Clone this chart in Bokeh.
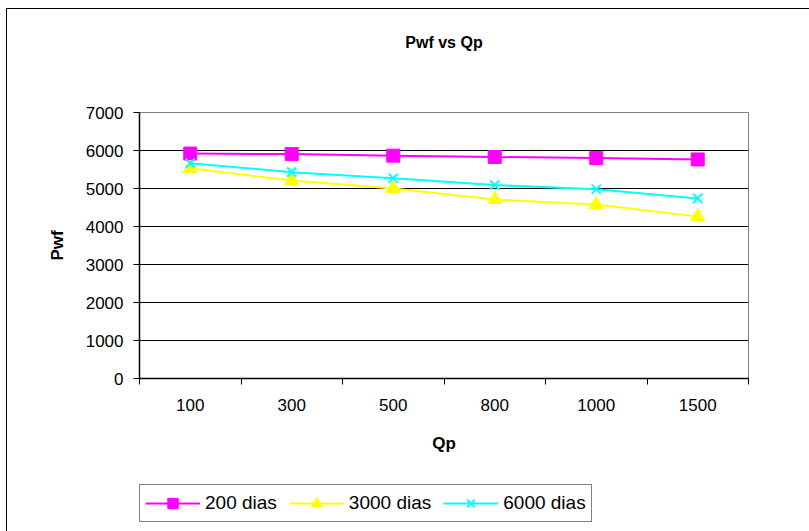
from bokeh.plotting import figure
from bokeh.layouts import column
from bokeh.models import (FixedTicker, Legend, LegendItem, Range1d, ColumnDataSource, Title)
from bokeh.embed import file_html
from bokeh.resources import INLINE

categories = ["100", "300", "500", "800", "1000", "1500"]
dias_200 = [5920, 5905, 5865, 5830, 5800, 5765]
dias_3000 = [5530, 5210, 5000, 4710, 4580, 4260]
dias_6000 = [5665, 5430, 5270, 5090, 4980, 4740]
series_names = ["200 dias", "3000 dias", "6000 dias"]
y_ticks = [0, 1000, 2000, 3000, 4000, 5000, 6000, 7000]

xpos = [i + 0.5 for i in range(len(categories))]
FONT = "Liberation Sans"
C1, C2, C3 = "#FF00FF", "#FFFF00", "#00FFFF"

p = figure(frame_width=609, frame_height=266, output_backend="svg", toolbar_location=None,
           x_range=Range1d(0, len(categories)), y_range=Range1d(0, 7000),
           min_border_left=132, min_border_right=61, min_border_top=103,
           min_border_bottom=90, title="Pwf vs Qp")
p.background_fill_color = "white"
p.border_fill_color = "white"
p.outline_line_color = "#808080"
p.outline_line_width = 1

p.title.align = "center"
p.title.text_font = FONT
p.title.text_font_size = "16px"
p.title.text_font_style = "bold"
p.title.text_color = "black"

# spacer between the title and the plot area
p.add_layout(Title(text=" ", text_font_size="30px", standoff=22, offset=0), "above")

# axes
p.xaxis.ticker = FixedTicker(ticks=xpos, minor_ticks=list(range(len(categories) + 1)))
p.xaxis.major_label_overrides = {x: c for x, c in zip(xpos, categories)}
p.xaxis.major_tick_out = 0
p.xaxis.major_tick_in = 0
p.xaxis.minor_tick_out = 6
p.xaxis.minor_tick_in = 0
p.xaxis.minor_tick_line_color = "black"
p.xaxis.major_label_standoff = 14
p.xaxis.axis_label = "Qp"
p.xaxis.axis_label_standoff = 20

p.yaxis.ticker = FixedTicker(ticks=y_ticks)
p.yaxis.minor_tick_line_color = None
p.yaxis.major_tick_out = 6
p.yaxis.major_tick_in = 0
p.yaxis.major_label_standoff = 10
p.yaxis.axis_label = "Pwf"
p.yaxis.axis_label_standoff = 16

for ax in (p.xaxis[0], p.yaxis[0]):
    ax.axis_line_color = "black"
    ax.axis_line_width = 1.5
    ax.major_tick_line_color = "black"
    ax.major_label_text_font = FONT
    ax.major_label_text_font_size = "17px"
    ax.major_label_text_color = "black"
    ax.axis_label_text_font = FONT
    ax.axis_label_text_font_size = "17px"
    ax.axis_label_text_font_style = "bold"
    ax.axis_label_text_color = "black"

p.xgrid.grid_line_color = None
p.ygrid.grid_line_color = "black"
p.ygrid.grid_line_width = 1
p.ygrid.ticker = FixedTicker(ticks=y_ticks)

src = ColumnDataSource(dict(x=xpos, a=dias_200, b=dias_3000, c=dias_6000))

p.line("x", "a", source=src, line_color=C1, line_width=2)
p.scatter("x", "a", source=src, marker="square", size=13, fill_color=C1, line_color=C1)
p.line("x", "b", source=src, line_color=C2, line_width=2)
p.scatter("x", "b", source=src, marker="triangle", size=14, fill_color=C2, line_color=C2)
p.line("x", "c", source=src, line_color=C3, line_width=2)
p.scatter("x", "c", source=src, marker="x", size=13, line_color=C3, line_width=2)

# legend strip below the chart (legend-only figure; its data lies outside its view)
p2 = figure(width=802, height=63, output_backend="svg", toolbar_location=None,
            x_range=Range1d(0, 1), y_range=Range1d(0, 1), min_border=0,
            x_axis_type=None, y_axis_type=None)
p2.grid.visible = False
p2.outline_line_color = None
p2.background_fill_color = "white"
p2.border_fill_color = "white"

r1 = [p2.line("x", "a", source=src, line_color=C1, line_width=2),
      p2.scatter("x", "a", source=src, marker="square", fill_color=C1, line_color=C1)]
r2 = [p2.line("x", "b", source=src, line_color=C2, line_width=2),
      p2.scatter("x", "b", source=src, marker="triangle", fill_color=C2, line_color=C2)]
r3 = [p2.line("x", "c", source=src, line_color=C3, line_width=2),
      p2.scatter("x", "c", source=src, marker="x", line_color=C3, line_width=2)]

legend = Legend(items=[
    LegendItem(label=series_names[0], renderers=r1),
    LegendItem(label=series_names[1], renderers=r2),
    LegendItem(label=series_names[2], renderers=r3),
], orientation="horizontal", location=(0, 9))
legend.border_line_color = "black"
legend.border_line_width = 1
legend.label_text_font = FONT
legend.label_text_font_size = "19px"
legend.label_text_color = "black"
legend.glyph_width = 55
legend.glyph_height = 26
legend.spacing = 12
legend.padding = 5
legend.margin = 0
legend.label_standoff = 5
legend.background_fill_alpha = 1
p2.add_layout(legend, "center")

layout = column(p, p2, spacing=0)
layout.margin = (8, 0, 0, 6)
layout.styles = {"border-left": "1px solid black", "border-top": "1px solid black"}

open("out.html", "w").write(file_html(layout, INLINE))
